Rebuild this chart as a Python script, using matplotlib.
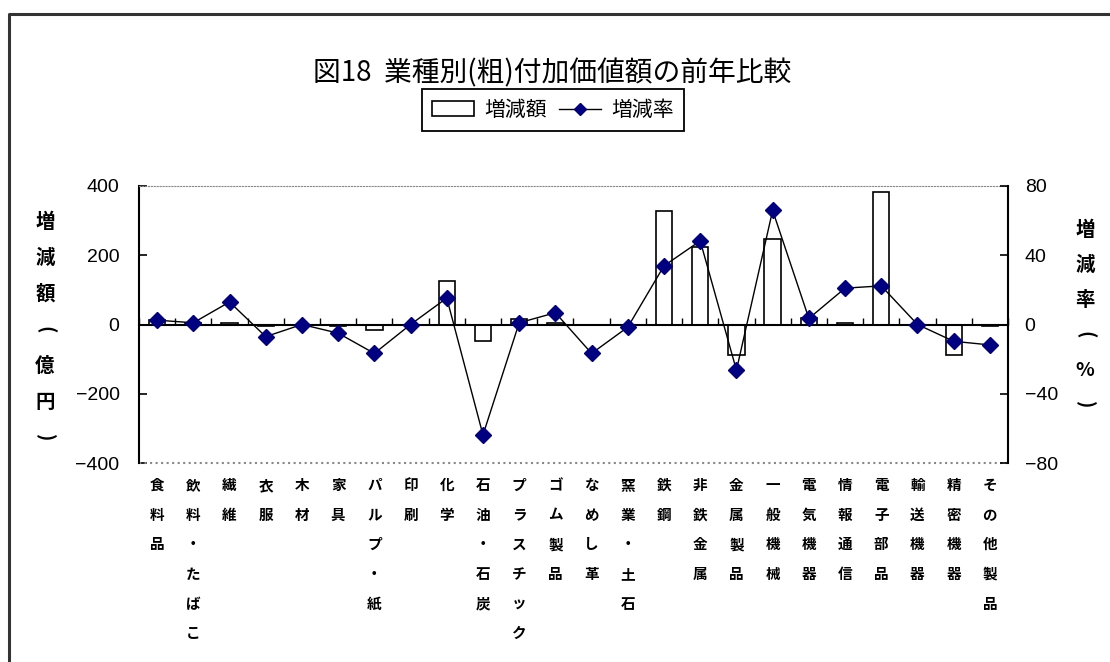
import matplotlib
matplotlib.use('Agg')
import matplotlib.pyplot as plt
from matplotlib.lines import Line2D
from matplotlib.patches import Patch
import matplotlib.transforms as mtrans
import numpy as np

plt.rcParams['font.family'] = ['Noto Sans CJK JP', 'DejaVu Sans']

categories = ['食料品', '飲料・たばこ', '繊維', '衣服', '木材', '家具', 'パルプ・紙', '印刷',
              '化学', '石油・石炭', 'プラスチック', 'ゴム製品', 'なめし革', '窯業・土石', '鉄鋼',
              '非鉄金属', '金属製品', '一般機械', '電気機器', '情報通信', '電子部品', '輸送機器',
              '精密機器', 'その他製品']
change_amount = [13, 3, 4, -4, 0, -4, -17, 0, 125, -48, 15, 4, 0, 0, 329, 225, -89, 247,
                 18, 5, 382, 0, -89, -5]
change_rate = [2.5, 1.0, 13.0, -7.0, 0.0, -5.0, -16.7, 0.0, 15.3, -63.8, 1.0, 6.8, -16.7,
               -1.5, 33.9, 48.3, -26.4, 65.9, 3.5, 21.0, 22.3, 0.0, -9.7, -11.8]
left_ticks = [-400, -200, 0, 200, 400]
right_ticks = [-80, -40, 0, 40, 80]
left_title = ['増', '減', '額', '(', '億', '円', ')']
right_title = ['増', '減', '率', '(', '%', ')']

W, H = 1110, 662
fig = plt.figure(figsize=(W / 100, H / 100), dpi=100)
ax = fig.add_axes([139 / W, 1 - 463 / H, (1008 - 139) / W, (463 - 186) / H])


def fmt(v):
    return str(v).replace('-', '\u2212')


x = np.arange(len(categories))
ax.bar(x, change_amount, width=0.45, color='white', edgecolor='black', linewidth=1.2, zorder=2)
ax.set_xlim(-0.5, len(categories) - 0.5)
ax.set_ylim(-400, 400)
ax.set_yticks(left_ticks)
ax.set_yticklabels([fmt(v) for v in left_ticks], family='Liberation Sans', fontsize=14)
ax.tick_params(axis='y', direction='in', length=6, width=1.2, pad=14)

ax.spines['bottom'].set_position(('data', 0))
ax.spines['bottom'].set_linewidth(1.5)
ax.spines['left'].set_linewidth(1.5)
ax.spines['top'].set_linestyle(':')
ax.spines['top'].set_color('#888888')
ax.spines['right'].set_visible(False)
ax.axhline(-400, color='#888888', linestyle=':', linewidth=1.5, clip_on=False)
ax.set_xticks(np.arange(-0.5, len(categories), 1.0))
ax.set_xticklabels([])
ax.tick_params(axis='x', direction='in', length=5, width=1.0)

ax2 = ax.twinx()
ax2.plot(x, change_rate, color='black', linewidth=1.0, marker='D', markersize=8,
         markerfacecolor='#000080', markeredgecolor='#000080', zorder=3)
ax2.set_ylim(-80, 80)
ax2.set_yticks(right_ticks)
ax2.set_yticklabels([fmt(v) for v in right_ticks], family='Liberation Sans', fontsize=14)
ax2.tick_params(axis='y', direction='in', length=6, width=1.2, pad=12)
for s in ['top', 'bottom', 'left']:
    ax2.spines[s].set_visible(False)
ax2.spines['right'].set_linewidth(1.5)

# vertical category labels
trans = mtrans.blended_transform_factory(ax.transData, fig.transFigure)
for i, name in enumerate(categories):
    ax.text(i, 1 - 477 / H, '\n'.join(name), transform=trans, ha='center', va='top',
            fontsize=10.5, fontweight='bold', linespacing=2.05, clip_on=False)


# axis titles written vertically, one character per row
def vertical_title(chars, xpix, ypix_first, step):
    for k, ch in enumerate(chars):
        rot = -90 if ch in '()' else 0
        fig.text(xpix / W, 1 - (ypix_first + k * step) / H, ch, ha='center', va='center',
                 fontsize=14, fontweight='bold', rotation=rot)


vertical_title(left_title, 45, 222, 36)
vertical_title(right_title, 1085, 230, 35)

fig.text(552 / W, 1 - 73 / H, '図18  業種別(粗)付加価値額の前年比較', ha='center', va='center',
         fontsize=20)

handles = [Patch(facecolor='white', edgecolor='black', linewidth=1.2),
           Line2D([], [], color='black', linewidth=1.0, marker='D', markersize=6,
                  markerfacecolor='#000080', markeredgecolor='#000080')]
leg = fig.legend(handles, ['増減額', '増減率'], ncol=2, loc='center',
                 bbox_to_anchor=(553 / W, 1 - 110 / H), frameon=True, fancybox=False,
                 edgecolor='black', framealpha=1, prop={'size': 15}, handlelength=2.0,
                 columnspacing=0.6, handletextpad=0.5, borderpad=0.5)
leg.get_frame().set_linewidth(1.3)

# outer chart border (left and top edges)
fig.add_artist(Line2D([9 / W, 9 / W, 1.0], [0.0, 1 - 14 / H, 1 - 14 / H],
                      transform=fig.transFigure, color='#333333', linewidth=2.2))

fig.savefig('out.png', dpi=100)
